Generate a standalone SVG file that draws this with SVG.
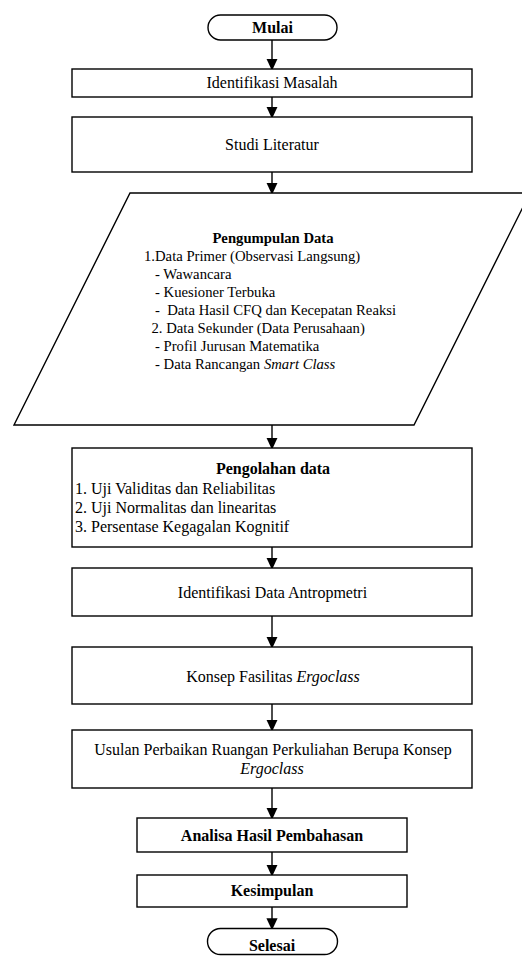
<svg xmlns="http://www.w3.org/2000/svg" width="522" height="956" viewBox="0 0 522 956" font-family="'Liberation Serif', 'Times New Roman', Times, serif">
<defs>
<marker id="ah" markerWidth="12" markerHeight="14" refX="12" refY="6.5" orient="auto" markerUnits="userSpaceOnUse" viewBox="0 0 14 13">
<path d="M0,0 L14,6.5 L0,13 Z" fill="#000"/>
</marker>
<style>
.s{fill:#fff;stroke:#000;stroke-width:1.4}
.t{font-family:'Liberation Serif',serif;font-size:16px;fill:#000}
.p{font-size:14.7px}
.c{text-anchor:middle}
.b{font-weight:bold}
.i{font-style:italic}
.l{stroke:#000;stroke-width:1.4;fill:none}
</style>
</defs>
<rect width="522" height="956" fill="#fff"/>
<g id="connectors">
<line class="l" x1="272" y1="40" x2="272" y2="69" marker-end="url(#ah)"/>
<line class="l" x1="272" y1="97" x2="272" y2="117" marker-end="url(#ah)"/>
<line class="l" x1="272" y1="172" x2="272" y2="193" marker-end="url(#ah)"/>
<line class="l" x1="272" y1="425" x2="272" y2="448" marker-end="url(#ah)"/>
<line class="l" x1="272" y1="547" x2="272" y2="568" marker-end="url(#ah)"/>
<line class="l" x1="272" y1="616" x2="272" y2="647" marker-end="url(#ah)"/>
<line class="l" x1="272" y1="704" x2="272" y2="730" marker-end="url(#ah)"/>
<line class="l" x1="272" y1="788" x2="272" y2="818" marker-end="url(#ah)"/>
<line class="l" x1="272" y1="852" x2="272" y2="875" marker-end="url(#ah)"/>
<line class="l" x1="272" y1="907" x2="272" y2="928.5" marker-end="url(#ah)"/>
</g>
<g id="mulai">
<rect class="s" x="208" y="15" width="129" height="25" rx="12.5" ry="12.5"/>
<text class="t c b" x="272.5" y="33">Mulai</text>
</g>
<g id="identifikasi-masalah">
<rect class="s" x="72" y="69" width="400" height="28"/>
<text class="t c" x="272" y="88">Identifikasi Masalah</text>
</g>
<g id="studi-literatur">
<rect class="s" x="72" y="117" width="400" height="55"/>
<text class="t c" x="272" y="150">Studi Literatur</text>
</g>
<g id="pengumpulan-data">
<polygon class="s" points="130,193 530,193 414,425 14,425"/>
<text class="t p c b" x="273" y="243">Pengumpulan Data</text>
<text class="t p" x="144" y="261">1.Data Primer (Observasi Langsung)</text>
<text class="t p" x="155" y="279">- Wawancara</text>
<text class="t p" x="155" y="297">- Kuesioner Terbuka</text>
<text class="t p" x="155" y="315" xml:space="preserve">-  Data Hasil CFQ dan Kecepatan Reaksi</text>
<text class="t p" x="151.5" y="333">2. Data Sekunder (Data Perusahaan)</text>
<text class="t p" x="155" y="351">- Profil Jurusan Matematika</text>
<text class="t p" x="155" y="369">- Data Rancangan <tspan class="i">Smart Class</tspan></text>
</g>
<g id="pengolahan-data">
<rect class="s" x="72" y="448" width="400" height="99"/>
<text class="t c b" x="273" y="474">Pengolahan data</text>
<text class="t" x="75" y="493.5">1. Uji Validitas dan Reliabilitas</text>
<text class="t" x="75" y="513">2. Uji Normalitas dan linearitas</text>
<text class="t" x="75" y="532">3. Persentase Kegagalan Kognitif</text>
</g>
<g id="identifikasi-antropometri">
<rect class="s" x="72" y="568" width="400" height="48"/>
<text class="t c" x="272.5" y="598">Identifikasi Data Antropmetri</text>
</g>
<g id="konsep-fasilitas">
<rect class="s" x="72" y="647" width="400" height="57"/>
<text class="t c" x="273" y="681.5">Konsep Fasilitas <tspan class="i">Ergoclass</tspan></text>
</g>
<g id="usulan-perbaikan">
<rect class="s" x="72" y="730" width="400" height="58"/>
<text class="t c" x="273" y="755">Usulan Perbaikan Ruangan Perkuliahan Berupa Konsep</text>
<text class="t c i" x="272" y="774">Ergoclass</text>
</g>
<g id="analisa">
<rect class="s" x="137" y="818" width="270" height="34"/>
<text class="t c b" x="272" y="841">Analisa Hasil Pembahasan</text>
</g>
<g id="kesimpulan">
<rect class="s" x="137" y="875" width="270" height="32"/>
<text class="t c b" x="272" y="896">Kesimpulan</text>
</g>
<g id="selesai">
<rect class="s" x="207.5" y="928.5" width="130" height="26" rx="13" ry="13"/>
<text class="t c b" x="272" y="951">Selesai</text>
</g>
</svg>
